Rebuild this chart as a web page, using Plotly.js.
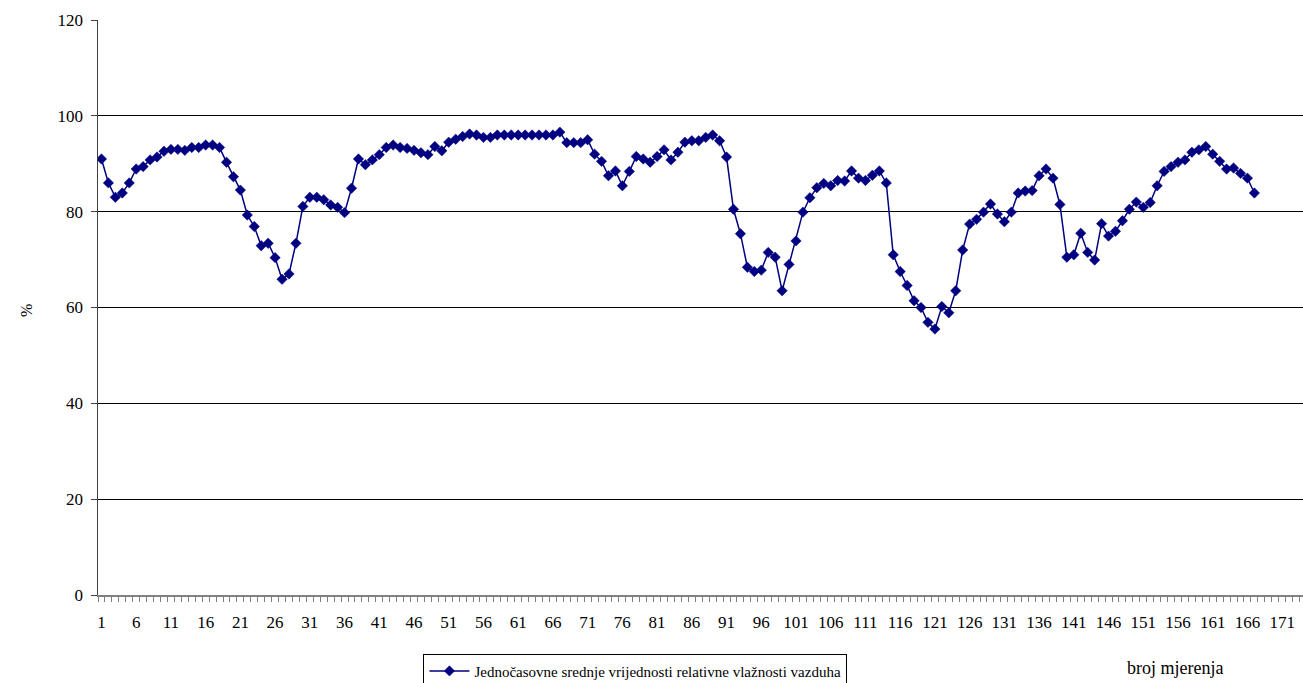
<!DOCTYPE html>
<html>
<head>
<meta charset="utf-8">
<script src="https://cdn.plot.ly/plotly-3.0.1.min.js"></script>
<style>
  html, body { margin: 0; padding: 0; background: #fff; }
  #chart { width: 1303px; height: 683px; }
</style>
</head>
<body>
<div id="chart"></div>
<script>
"use strict";

var humidity = [
  91.0, 86.0, 83.0, 83.9, 86.0, 88.9, 89.4, 90.8, 91.4, 92.6,
  93.0, 93.0, 92.8, 93.4, 93.4, 93.9, 93.9, 93.4, 90.3, 87.3,
  84.5, 79.3, 76.9, 72.9, 73.4, 70.4, 65.9, 67.0, 73.4, 81.1,
  83.0, 83.0, 82.5, 81.4, 80.9, 79.8, 84.9, 91.0, 89.8, 90.8,
  91.9, 93.4, 93.9, 93.4, 93.2, 92.8, 92.3, 91.9, 93.6, 92.7,
  94.5, 95.1, 95.7, 96.2, 96.0, 95.5, 95.5, 96.0, 96.0, 96.0,
  96.0, 96.0, 96.0, 96.0, 96.0, 96.0, 96.6, 94.4, 94.4, 94.4,
  95.0, 92.0, 90.5, 87.5, 88.5, 85.4, 88.4, 91.5, 91.0, 90.3,
  91.5, 92.9, 90.8, 92.4, 94.5, 94.8, 94.8, 95.5, 96.0, 94.8,
  91.4, 80.5, 75.4, 68.4, 67.5, 67.8, 71.5, 70.5, 63.5, 69.0,
  73.9, 79.9, 82.9, 85.0, 85.9, 85.4, 86.5, 86.4, 88.5, 87.0,
  86.5, 87.6, 88.5, 86.0, 71.0, 67.5, 64.6, 61.4, 60.0, 56.9,
  55.5, 60.2, 58.9, 63.5, 72.0, 77.4, 78.4, 79.9, 81.6, 79.5,
  77.9, 79.9, 83.9, 84.3, 84.4, 87.5, 88.9, 87.0, 81.5, 70.5,
  71.0, 75.5, 71.5, 69.9, 77.5, 74.9, 75.9, 78.1, 80.5, 82.0,
  80.9, 81.9, 85.4, 88.4, 89.4, 90.3, 90.8, 92.4, 92.9, 93.6,
  92.0, 90.5, 88.9, 89.1, 88.0, 87.0, 83.9
];
var measurement = humidity.map((v, i) => i + 1);

var xTickVals = [1, 6, 11, 16, 21, 26, 31, 36, 41, 46, 51, 56, 61, 66, 71, 76, 81, 86,
  91, 96, 101, 106, 111, 116, 121, 126, 131, 136, 141, 146, 151, 156, 161, 166, 171];
var yTickVals = [0, 20, 40, 60, 80, 100, 120];

var seriesName = 'Jednočasovne srednje vrijednosti relativne vlažnosti vazduha';

var FONT = 'Liberation Serif, Times New Roman, serif';
var NAVY = '#000080';

var trace = {
  x: measurement,
  y: humidity,
  mode: 'lines+markers',
  name: seriesName,
  line: {color: NAVY, width: 1.5},
  marker: {symbol: 'diamond', size: 8, color: NAVY, line: {color: NAVY, width: 0.5}},
  showlegend: true
};

var layout = {
  width: 1303,
  height: 683,
  margin: {l: 98, r: 0, t: 20, b: 88, autoexpand: false},
  paper_bgcolor: '#fff',
  plot_bgcolor: '#fff',
  font: {family: FONT, size: 16, color: '#000'},
  showlegend: true,
  xaxis: {
    range: [0.5, 174],
    tickvals: xTickVals,
    ticktext: xTickVals.map(String),
    ticks: '',
    ticklabelstandoff: 11,
    showgrid: false,
    zeroline: false,
    showline: true,
    linecolor: '#808080',
    linewidth: 1.5,
    minor: {tick0: 0.5, dtick: 1, ticks: 'outside', ticklen: 5, tickcolor: '#808080', showgrid: false},
    tickfont: {family: FONT, size: 17, color: '#000'}
  },
  yaxis: {
    range: [0, 120],
    tickvals: yTickVals,
    ticks: 'outside',
    ticklen: 6,
    tickcolor: '#404040',
    showgrid: true,
    gridcolor: '#000',
    gridwidth: 1,
    zeroline: false,
    showline: true,
    linecolor: '#404040',
    linewidth: 1.5,
    ticklabelstandoff: 4,
    tickfont: {family: FONT, size: 17, color: '#000'}
  },
  legend: {
    orientation: 'h',
    x: 0.446,
    xanchor: 'center',
    y: -0.102,
    yanchor: 'top',
    bordercolor: '#000',
    borderwidth: 1,
    bgcolor: '#fff',
    itemwidth: 40,
    font: {family: FONT, size: 15, color: '#000'}
  },
  annotations: [
    {
      text: '%',
      xref: 'paper', yref: 'paper',
      x: -0.068, y: 0.495,
      showarrow: false,
      textangle: -90,
      font: {family: FONT, size: 16, color: '#000'}
    },
    {
      text: 'broj mjerenja',
      xref: 'paper', yref: 'paper',
      x: 0.894, y: -0.127,
      xanchor: 'center', yanchor: 'middle',
      showarrow: false,
      font: {family: FONT, size: 18, color: '#000'}
    }
  ]
};

Plotly.newPlot('chart', [trace], layout, {displayModeBar: false, staticPlot: true});
</script>
</body>
</html>
